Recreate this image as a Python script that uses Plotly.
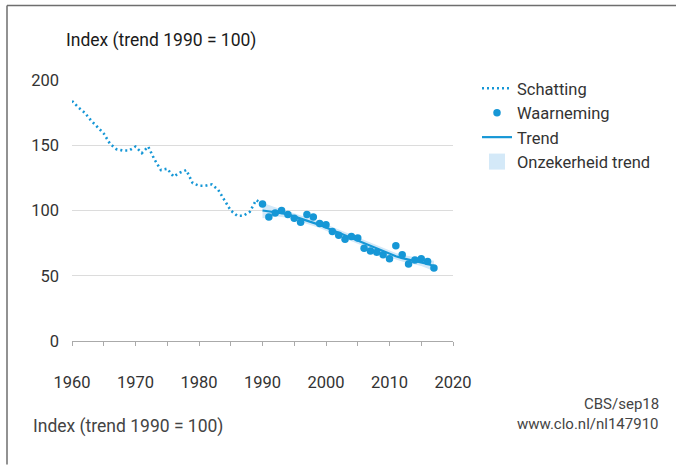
import plotly.graph_objects as go

# ---- data ----
est_years = list(range(1960, 1991))
est_values = [184, 179, 175, 169, 164, 159, 151, 147, 146, 146,
              149, 144, 149, 139, 131, 132, 126, 129, 131, 121,
              119, 119, 120, 116, 108, 100, 96, 96, 99, 108, 105]

obs_years = list(range(1990, 2018))
obs_values = [105, 95, 98, 100, 97, 94, 91, 97, 95, 90,
              89, 84, 81, 78, 80, 79, 71, 69, 68, 66,
              63, 73, 66, 59, 62, 63, 61, 56]

trend_values = [100, 99.5, 99, 98, 97, 95.5, 94, 92.5, 91, 89,
                87, 85, 83, 81, 79, 77, 75, 73, 71, 68.5,
                66.5, 65, 63.5, 62.5, 61.5, 60.5, 59, 57.5]
trend_lower = [94, 95, 95.5, 95, 94.5, 93, 91.5, 90, 88.5, 86.5,
               84.5, 82.5, 80.5, 78.5, 76.5, 74.5, 72.5, 70.5, 68.5, 66,
               64, 62.5, 61, 60, 59, 57.5, 55.5, 53.5]
trend_upper = [106, 104, 102.5, 101, 99.5, 98, 96.5, 95, 93.5, 91.5,
               89.5, 87.5, 85.5, 83.5, 81.5, 79.5, 77.5, 75.5, 73.5, 71,
               69, 67.5, 66, 65, 64, 63.5, 62.5, 61.5]

x_ticks = [1960, 1970, 1980, 1990, 2000, 2010, 2020]
y_ticks = [0, 50, 100, 150, 200]

title_text = "Index (trend 1990 = 100)"
source_lines = ["CBS/sep18", "www.clo.nl/nl147910"]

BLUE = "#1697d6"
BAND = "#d4e9f8"
FONT = "Roboto"

# ---- layout geometry (pixels) ----
W, H = 676, 465
L, R, T, B = 72, 453, 80, 341.4


def px(xp):
    return (xp - L) / (R - L)


def py(yp):
    return (B - yp) / (B - T)


fig = go.Figure()

fig.add_trace(go.Scatter(x=obs_years, y=trend_lower, mode="lines",
                         line=dict(width=0, color=BAND), showlegend=False,
                         hoverinfo="skip"))
fig.add_trace(go.Scatter(x=obs_years, y=trend_upper, mode="lines",
                         line=dict(width=0, color=BAND), fill="tonexty",
                         fillcolor=BAND, showlegend=False))
fig.add_trace(go.Scatter(x=est_years, y=est_values, mode="lines",
                         line=dict(color=BLUE, width=2.6, dash="2px,3px"),
                         name="Schatting", legendrank=1))
fig.add_trace(go.Scatter(x=obs_years, y=trend_values, mode="lines",
                         line=dict(color=BLUE, width=2.2),
                         name="Trend", legendrank=3))
fig.add_trace(go.Scatter(x=obs_years, y=obs_values, mode="markers",
                         marker=dict(color=BLUE, size=7.5),
                         name="Waarneming", legendrank=2))
# legend entry for the uncertainty band (square swatch)
fig.add_trace(go.Scatter(x=[None], y=[None], mode="markers",
                         marker=dict(symbol="square", size=17, color=BAND),
                         name="Onzekerheid trend", legendrank=4))

shapes = [
    dict(type="line", xref="paper", yref="paper", x0=px(7), x1=px(676),
         y0=py(5.5), y1=py(5.5), line=dict(color="#6e6e6e", width=1.5)),
    dict(type="line", xref="paper", yref="paper", x0=px(7), x1=px(7),
         y0=py(5.5), y1=py(465), line=dict(color="#6e6e6e", width=1.5)),
]

annotations = [
    dict(text=title_text, xref="paper", yref="paper", x=px(64), y=py(40),
         xanchor="left", yanchor="middle", showarrow=False,
         font=dict(family=FONT, size=17.5, color="#1a1a1a")),
    dict(text=title_text, xref="paper", yref="paper", x=px(31), y=py(427),
         xanchor="left", yanchor="middle", showarrow=False,
         font=dict(family=FONT, size=17.5, color="#444")),
    dict(text=source_lines[0], xref="paper", yref="paper", x=px(661), y=py(404),
         xanchor="right", yanchor="middle", showarrow=False,
         font=dict(family=FONT, size=15, color="#444")),
    dict(text=source_lines[1], xref="paper", yref="paper", x=px(661), y=py(425),
         xanchor="right", yanchor="middle", showarrow=False,
         font=dict(family=FONT, size=15, color="#444")),
]

fig.update_layout(
    width=W, height=H,
    margin=dict(l=L, r=W - R, t=T, b=H - B),
    paper_bgcolor="white", plot_bgcolor="white",
    font=dict(family=FONT, size=16, color="#333"),
    shapes=shapes, annotations=annotations,
    legend=dict(x=px(477), y=py(71), xanchor="left", yanchor="top",
                font=dict(family=FONT, size=16.5, color="#333"),
                itemwidth=30, tracegroupgap=0, traceorder="normal",
                bgcolor="rgba(0,0,0,0)"),
    xaxis=dict(range=[1960, 2020], tickvals=x_ticks, ticks="outside",
               ticklen=4, tickcolor="#aaa", showgrid=False, zeroline=False,
               showline=True, linecolor="#aaa", linewidth=1,
               ticklabelstandoff=22, tickfont=dict(size=16.5),
               minor=dict(dtick=5, ticks="outside", ticklen=4, tickcolor="#aaa"),
               fixedrange=True),
    yaxis=dict(range=[0, 200], tickvals=y_ticks, showgrid=True,
               gridcolor="#dcdcdc", gridwidth=1, zeroline=False,
               showline=False, ticks="", ticklabelstandoff=12,
               tickfont=dict(size=16.5), fixedrange=True),
    showlegend=True,
)

fig.write_html(
    "out.html",
    config={"displayModeBar": False},
    post_script="document.body.style.margin='0';document.body.style.overflow='hidden';",
)
